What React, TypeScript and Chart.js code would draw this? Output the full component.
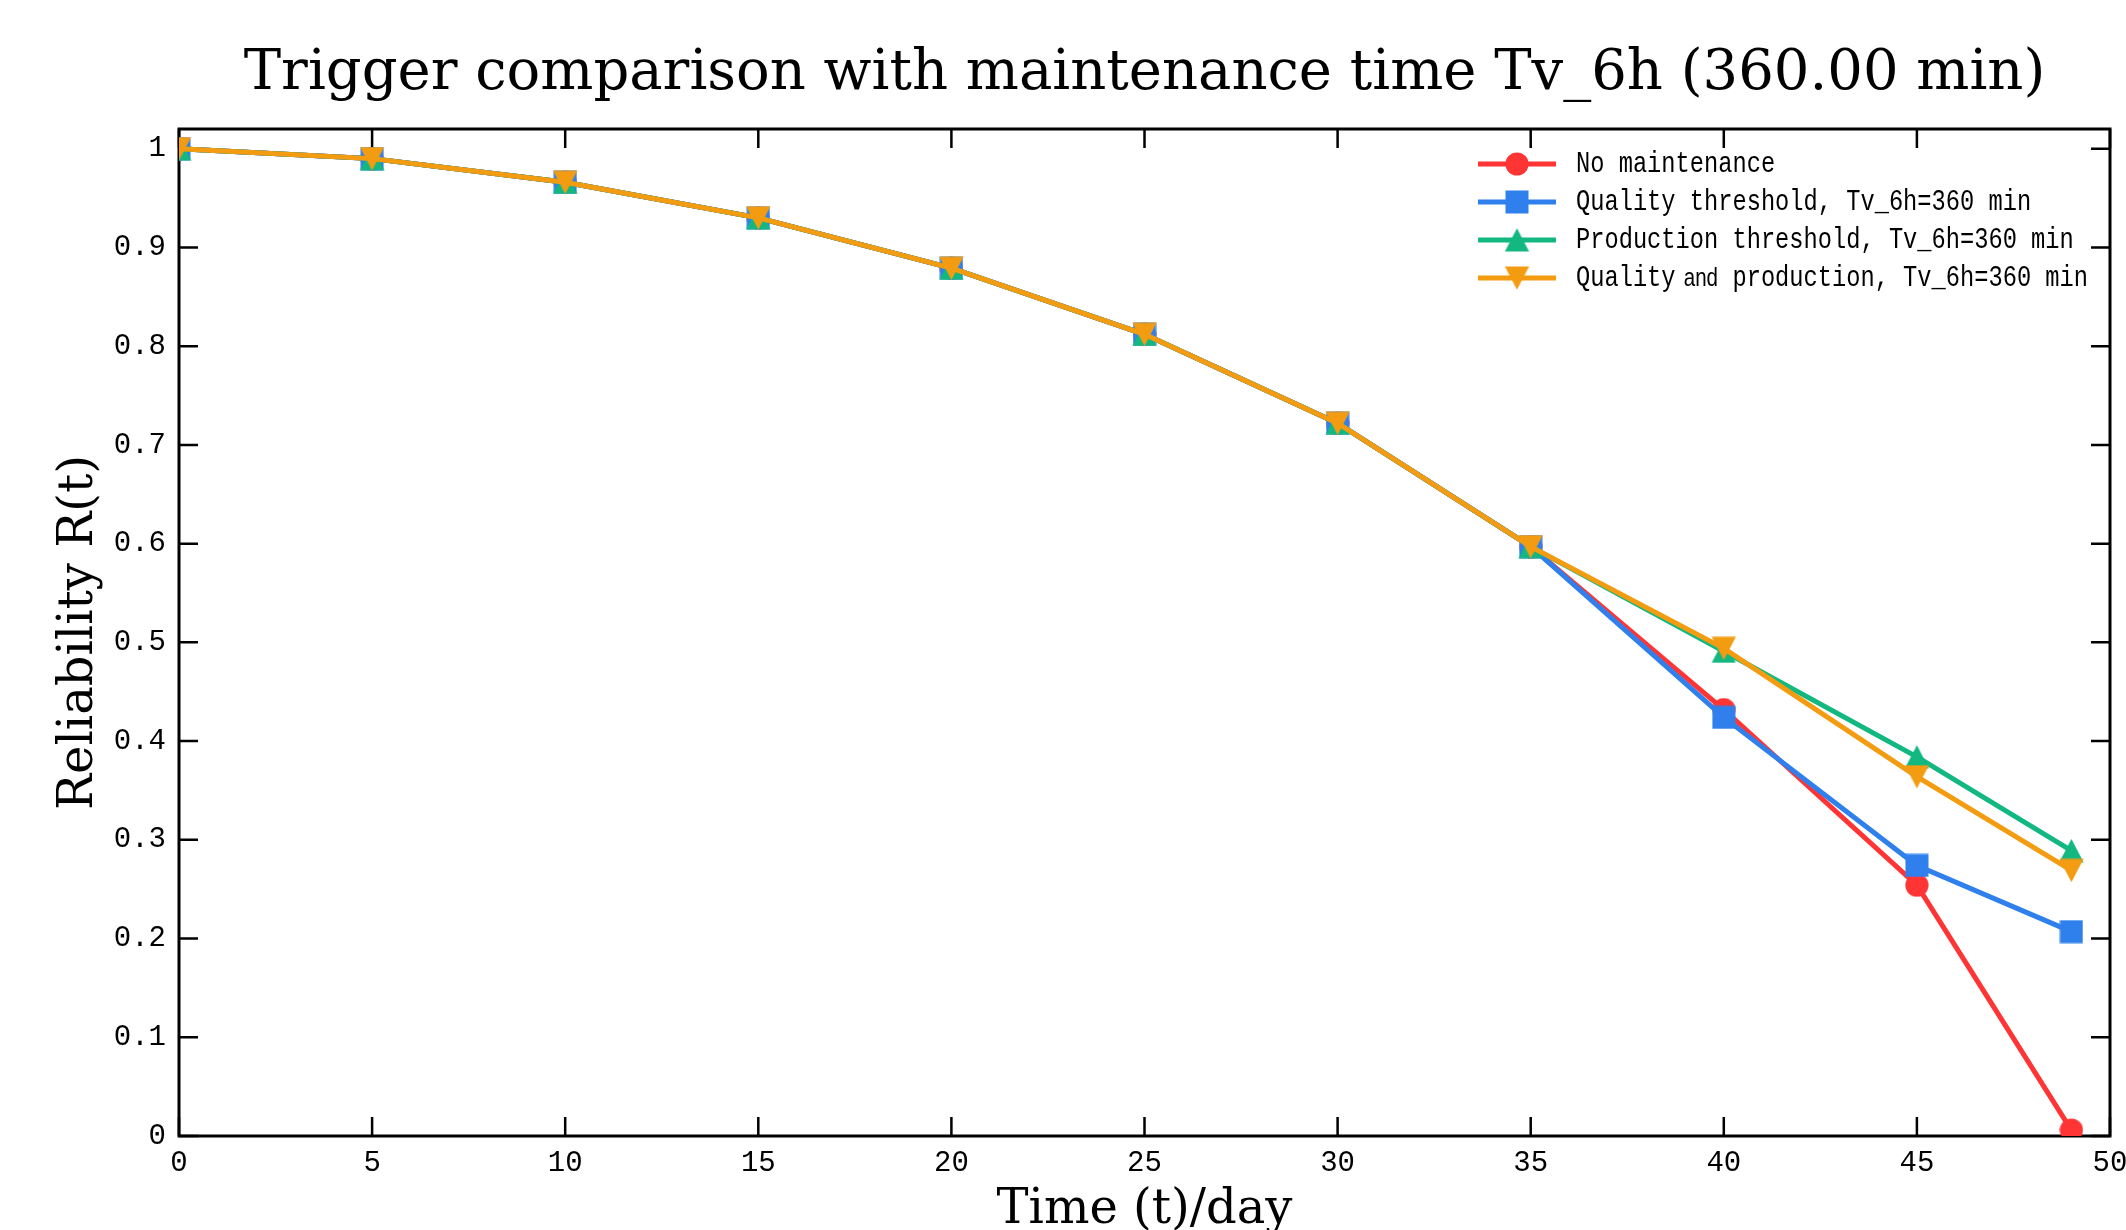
import React, { useEffect, useRef } from 'react';
import { Chart, registerables } from 'chart.js';

Chart.register(...registerables);

// ---- data ----
const days = [0, 5, 10, 15, 20, 25, 30, 35, 40, 45, 49];
const noMaintenance = [1.0, 0.990, 0.966, 0.930, 0.879, 0.812, 0.722, 0.597, 0.432, 0.254, 0.006];
const qualityThreshold = [1.0, 0.990, 0.966, 0.930, 0.879, 0.812, 0.722, 0.597, 0.424, 0.274, 0.207];
const productionThreshold = [1.0, 0.990, 0.966, 0.930, 0.879, 0.812, 0.722, 0.597, 0.491, 0.384, 0.289];
const qualityAndProduction = [1.0, 0.990, 0.966, 0.930, 0.879, 0.812, 0.722, 0.597, 0.494, 0.364, 0.269];

const seriesLabels = [
  'No maintenance',
  'Quality threshold, Tv_6h=360 min',
  'Production threshold, Tv_6h=360 min',
  'Quality and production, Tv_6h=360 min',
];
const seriesColors = ['#ff3535', '#2f80ed', '#12b880', '#f39c12'];
const seriesMarkers = ['circle', 'square', 'triangleUp', 'triangleDown'];

const xTickValues = [0, 5, 10, 15, 20, 25, 30, 35, 40, 45, 50];
const yTickValues = [0, 0.1, 0.2, 0.3, 0.4, 0.5, 0.6, 0.7, 0.8, 0.9, 1];
const yTickLabels = ['0', '0.1', '0.2', '0.3', '0.4', '0.5', '0.6', '0.7', '0.8', '0.9', '1'];

const titleText = 'Trigger comparison with maintenance time Tv_6h (360.00 min)';
const xTitle = 'Time (t)/day';
const yTitle = 'Reliability R(t)';

const MONO = '"Liberation Mono", "DejaVu Sans Mono", monospace';
const SERIF = '"DejaVu Serif", serif';

function makeMarker(kind: string, color: string): HTMLCanvasElement {
  const c = document.createElement('canvas');
  const w = kind === 'circle' ? 24 : kind === 'square' ? 24 : 25;
  const h = 24;
  c.width = w;
  c.height = h;
  const g = c.getContext('2d')!;
  g.fillStyle = color;
  g.beginPath();
  if (kind === 'circle') {
    g.arc(12, 12, 11.6, 0, Math.PI * 2);
  } else if (kind === 'square') {
    g.rect(0.5, 0.5, 23, 23);
  } else if (kind === 'triangleUp') {
    g.moveTo(12.5, 0.3);
    g.lineTo(24.6, 23.6);
    g.lineTo(0.4, 23.6);
    g.closePath();
  } else {
    g.moveTo(0.4, 0.4);
    g.lineTo(24.6, 0.4);
    g.lineTo(12.5, 23.7);
    g.closePath();
  }
  g.fill();
  return c;
}

const framePlugin = {
  id: 'frameTicks',
  beforeDatasetsDraw(chart: any) {
    const { ctx, chartArea } = chart;
    const { left, right, top, bottom } = chartArea;
    const xs = chart.scales.x;
    const ys = chart.scales.y;
    ctx.save();
    ctx.strokeStyle = '#000';
    ctx.lineWidth = 2.5;
    const len = 19;
    ctx.beginPath();
    xs.ticks.forEach((t: any) => {
      const px = xs.getPixelForValue(t.value);
      ctx.moveTo(px, bottom);
      ctx.lineTo(px, bottom - len);
      ctx.moveTo(px, top);
      ctx.lineTo(px, top + len);
    });
    ys.ticks.forEach((t: any) => {
      const py = ys.getPixelForValue(t.value);
      ctx.moveTo(left, py);
      ctx.lineTo(left + len, py);
      ctx.moveTo(right, py);
      ctx.lineTo(right - len, py);
    });
    ctx.stroke();
    ctx.lineWidth = 3;
    ctx.strokeRect(left, top, right - left, bottom - top);
    ctx.restore();
  },
};

const titlePlugin = {
  id: 'plotTitle',
  afterDraw(chart: any) {
    const { ctx, chartArea } = chart;
    ctx.save();
    ctx.fillStyle = '#000';
    ctx.font = `56px ${SERIF}`;
    ctx.textAlign = 'center';
    ctx.textBaseline = 'alphabetic';
    ctx.fillText(titleText, (chartArea.left + chartArea.right) / 2, 89);
    ctx.restore();
  },
};

const legendPlugin = {
  id: 'insideLegend',
  afterDraw(chart: any) {
    const { ctx, chartArea } = chart;
    const x0 = chartArea.right - 632;
    const y0 = chartArea.top + 35;
    const rowH = 38;
    const sx = 0.79;
    ctx.save();
    chart.data.datasets.forEach((ds: any, i: number) => {
      const y = y0 + i * rowH;
      ctx.strokeStyle = ds.borderColor;
      ctx.lineWidth = 5;
      ctx.beginPath();
      ctx.moveTo(x0, y);
      ctx.lineTo(x0 + 78, y);
      ctx.stroke();
      const img: HTMLCanvasElement = ds.pointStyle;
      ctx.drawImage(img, x0 + 39 - img.width / 2, y - img.height / 2);

      const tx = x0 + 98;
      const label: string = ds.label;
      ctx.save();
      ctx.translate(tx, y);
      ctx.scale(sx, 1);
      ctx.fillStyle = '#000';
      ctx.textBaseline = 'middle';
      ctx.textAlign = 'left';
      ctx.font = `30px ${MONO}`;
      if (label.includes(' and ')) {
        const [a, b] = label.split(' and ');
        ctx.fillText(a, 0, 0);
        const wa = ctx.measureText(a + ' ').width;
        const wor = ctx.measureText('or').width;
        const wpre = ctx.measureText(a + ' or ').width;
        ctx.fillText(b, wpre, 0);
        ctx.font = `26px "Liberation Sans", sans-serif`;
        ctx.textAlign = 'center';
        ctx.fillText('and', wa + wor / 2 - 4, 1, 47);
      } else {
        ctx.fillText(label, 0, 0);
      }
      ctx.restore();
    });
    ctx.restore();
  },
};

export default function App() {
  const canvasRef = useRef<HTMLCanvasElement | null>(null);

  useEffect(() => {
    document.body.style.margin = '0';
    document.body.style.overflow = 'hidden';
    const canvas = canvasRef.current;
    if (!canvas) return;

    const series = [noMaintenance, qualityThreshold, productionThreshold, qualityAndProduction];

    const datasets = series.map((vals, i) => ({
      label: seriesLabels[i],
      data: days.map((d, k) => ({ x: d, y: vals[k] })),
      borderColor: seriesColors[i],
      backgroundColor: seriesColors[i],
      pointStyle: makeMarker(seriesMarkers[i], seriesColors[i]),
      pointRadius: 12,
      pointBorderWidth: 0,
      borderWidth: 5,
      tension: 0,
      order: 4 - i,
    }));

    const chart = new Chart(canvas, {
      type: 'line',
      data: { datasets },
      options: {
        responsive: false,
        animation: false,
        events: [],
        layout: { padding: { left: 0, right: 16, top: 129, bottom: 0 } },
        plugins: {
          legend: { display: false },
          tooltip: { enabled: false },
          title: { display: false },
        },
        scales: {
          x: {
            type: 'linear',
            min: 0,
            max: 50,
            afterBuildTicks: (s: any) => {
              s.ticks = xTickValues.map((v) => ({ value: v }));
            },
            afterFit: (s: any) => {
              s.height = 94;
              s.paddingLeft = 0;
              s.paddingRight = 0;
            },
            grid: { display: false, drawTicks: false },
            border: { display: false },
            ticks: {
              color: '#000',
              font: { family: MONO, size: 29 },
              padding: 10,
              maxRotation: 0,
              autoSkip: false,
              callback: (v: any) => String(v),
            },
            title: {
              display: true,
              text: xTitle,
              color: '#000',
              font: { family: SERIF, size: 48, lineHeight: 1 },
              padding: { top: 0, bottom: -5 },
            },
          },
          y: {
            type: 'linear',
            min: 0,
            max: 1.02,
            afterBuildTicks: (s: any) => {
              s.ticks = yTickValues.map((v) => ({ value: v }));
            },
            afterFit: (s: any) => {
              s.width = 179;
              s.paddingTop = 0;
              s.paddingBottom = 0;
            },
            grid: { display: false, drawTicks: false },
            border: { display: false },
            ticks: {
              color: '#000',
              font: { family: MONO, size: 29 },
              padding: 13,
              autoSkip: false,
              callback: (v: any) => {
                const idx = yTickValues.indexOf(v);
                return idx >= 0 ? yTickLabels[idx] : '';
              },
            },
            title: {
              display: true,
              text: yTitle,
              color: '#000',
              font: { family: SERIF, size: 48, lineHeight: 1 },
              padding: { top: 56, bottom: 0 },
            },
          },
        },
      },
      plugins: [framePlugin, titlePlugin, legendPlugin],
    } as any);

    return () => chart.destroy();
  }, []);

  return <canvas ref={canvasRef} width={2126} height={1230} style={{ display: 'block' }} />;
}
